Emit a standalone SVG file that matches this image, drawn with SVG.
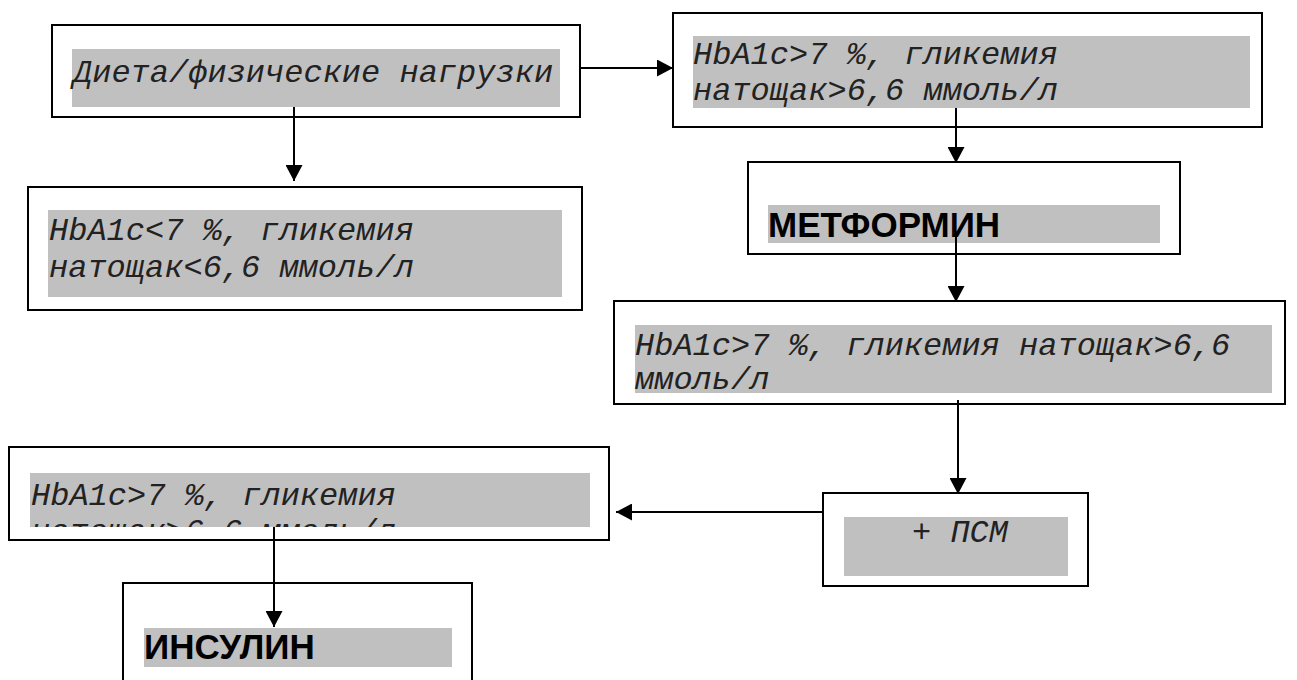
<svg xmlns="http://www.w3.org/2000/svg" width="1297" height="680" viewBox="0 0 1297 680">
<defs>
<style>
.box{fill:#fff;stroke:#000;stroke-width:2}
.hl{fill:#c0c0c0}
.t{font-family:"Liberation Mono","Courier New",monospace;font-style:italic;font-size:32px;fill:#222}
.b{font-family:"Liberation Sans",Arial,sans-serif;font-weight:bold;font-size:35px;fill:#000}
.c{fill:none;stroke:#000;stroke-width:2}
</style>
<marker id="ah" markerUnits="userSpaceOnUse" markerWidth="17" markerHeight="17" refX="16" refY="8.5" orient="auto">
<path d="M0,0 L16,8.5 L0,17 z" fill="#000"/>
</marker>
<clipPath id="clip6"><rect x="30" y="473" width="560" height="54"/></clipPath>
</defs>
<rect width="1297" height="680" fill="#fff"/>
<g id="n1">
<rect class="box" x="52" y="25" width="528" height="92"/>
<rect class="hl" x="72" y="49" width="488" height="58"/>
<text class="t" x="73" y="82">Диета/физические нагрузки</text>
</g>
<g id="n2">
<rect class="box" x="673" y="13" width="589" height="114"/>
<rect class="hl" x="693" y="36" width="557" height="72"/>
<text class="t" x="693" y="64">HbA1c&gt;7 %, гликемия</text>
<text class="t" x="693" y="100">натощак&gt;6,6 ммоль/л</text>
</g>
<g id="n3">
<rect class="box" x="28" y="187" width="554" height="123"/>
<rect class="hl" x="48" y="210" width="514" height="87"/>
<text class="t" x="49" y="240">HbA1c&lt;7 %, гликемия</text>
<text class="t" x="49" y="277">натощак&lt;6,6 ммоль/л</text>
</g>
<g id="n4">
<rect class="box" x="748" y="162" width="432" height="92"/>
<rect class="hl" x="768" y="205" width="392" height="38"/>
<text class="b" x="768" y="237">МЕТФОРМИН</text>
</g>
<g id="n5">
<rect class="box" x="614" y="301" width="671" height="103"/>
<rect class="hl" x="635" y="325" width="637" height="68"/>
<text class="t" x="635" y="355">HbA1c&gt;7 %, гликемия натощак&gt;6,6</text>
<text class="t" x="635" y="389">ммоль/л</text>
</g>
<g id="n6">
<rect class="box" x="823" y="493" width="265" height="93"/>
<rect class="hl" x="844" y="517" width="224" height="59"/>
<text class="t" x="912" y="542">+ ПСМ</text>
</g>
<g id="n7">
<rect class="box" x="9" y="447" width="600" height="93"/>
<rect class="hl" x="30" y="473" width="560" height="54"/>
<g clip-path="url(#clip6)">
<text class="t" x="31" y="505">HbA1c&gt;7 %, гликемия</text>
<text class="t" x="31" y="541">натощак&gt;6,6 ммоль/л</text>
</g>
</g>
<g id="n8">
<rect class="box" x="123" y="583" width="349" height="120"/>
<rect class="hl" x="144" y="628" width="308" height="39"/>
<text class="b" x="144" y="659">ИНСУЛИН</text>
</g>
<g id="connectors">
<line class="c" x1="580" y1="68" x2="673" y2="68" marker-end="url(#ah)"/>
<line class="c" x1="294" y1="107" x2="294" y2="181" marker-end="url(#ah)"/>
<line class="c" x1="956" y1="108" x2="956" y2="163" marker-end="url(#ah)"/>
<line class="c" x1="956" y1="235" x2="956" y2="302" marker-end="url(#ah)"/>
<line class="c" x1="958" y1="400" x2="958" y2="494" marker-end="url(#ah)"/>
<line class="c" x1="823" y1="512" x2="616" y2="512" marker-end="url(#ah)"/>
<line class="c" x1="274" y1="527" x2="274" y2="627" marker-end="url(#ah)"/>
</g>
</svg>
